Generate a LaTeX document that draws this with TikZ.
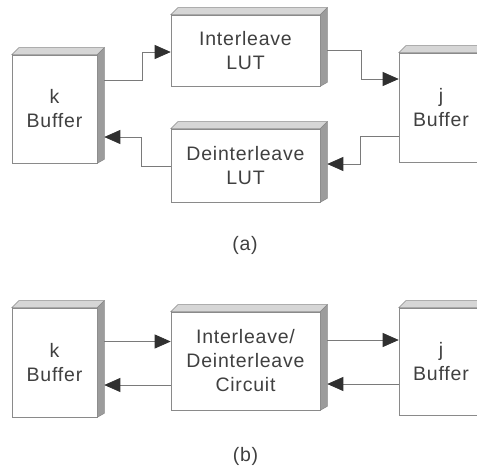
\documentclass[tikz,border=0pt]{standalone}
\usepackage{fontspec}
\setmainfont{Liberation Sans}[LetterSpace=4]
\usetikzlibrary{arrows.meta,calc}
\definecolor{txt}{HTML}{404040}
\definecolor{edge}{HTML}{8A8A8A}
\definecolor{topf}{HTML}{D6D6D6}
\definecolor{sidef}{HTML}{9C9C9C}
\definecolor{line}{HTML}{7A7A7A}
\definecolor{head}{HTML}{303030}
\tikzset{
  box3d/.style={draw=edge, line width=0.6pt, fill=white, inner sep=0pt,
    text=txt, align=center, font=\fontsize{19.5}{24}\selectfont},
  conn/.style={draw=line, line width=0.7pt,
    -{Triangle[length=16pt,width=14pt,color=head]}},
  caption/.style={text=txt, font=\fontsize{19.5}{24}\selectfont}
}
\newcommand{\facesof}[1]{%
  \filldraw[fill=topf, draw=edge, line width=0.5pt]
    (#1.north west) -- ++(7,-7) -- ($(#1.north east)+(7,-7)$) -- (#1.north east) -- cycle;
  \filldraw[fill=sidef, draw=edge, line width=0.5pt]
    (#1.north east) -- ++(7,-7) -- ($(#1.south east)+(7,-4)$) -- (#1.south east) -- cycle;
}
\begin{document}
\begin{tikzpicture}[x=1pt,y=-1pt]
\useasboundingbox (0,0) rectangle (477,469);
\clip (0,0) rectangle (477,469);
\fill[white] (0,0) rectangle (477,469);

% panel (a)
\node[box3d, minimum width=85pt, minimum height=108pt] (kA) at (54.5,109) {k\\Buffer};
\node[box3d, minimum width=149pt, minimum height=71pt] (IL) at (245.5,50.5) {Interleave\\LUT};
\node[box3d, minimum width=149pt, minimum height=73pt] (DL) at (245.5,165.5) {Deinterleave\\LUT};
\node[box3d, minimum width=84pt, minimum height=109pt] (jA) at (441,107.5) {j\\Buffer};
\facesof{kA}\facesof{IL}\facesof{DL}\facesof{jA}

\draw[conn] ($(kA.east)+(7,-29)$) -- ++(38,0) |- ($(IL.west)+(0,1.5)$);
\draw[conn] ($(IL.east)+(7,0)$) -- ++(34,0) |- ($(jA.west)+(0,-28.5)$);
\draw[conn] ($(jA.west)+(0,28.5)$) -- ++(-38,0) |- ($(DL.east)+(7,-1.5)$);
\draw[conn] ($(DL.west)+(0,0.5)$) -- ++(-29,0) |- ($(kA.east)+(7,28)$);

\node[caption] (capA) at (245,245) {(a)};

% panel (b)
\node[box3d, minimum width=85pt, minimum height=109pt] (kB) at (54.5,362.5) {k\\Buffer};
\node[box3d, minimum width=149pt, minimum height=98pt] (C) at (245.5,361) {Interleave/\\Deinterleave\\Circuit};
\node[box3d, minimum width=84pt, minimum height=107pt] (jB) at (441,361.5) {j\\Buffer};
\facesof{kB}\facesof{C}\facesof{jB}

\coordinate (p1) at ($(kB.east)+(7,-21)$);
\coordinate (p2) at ($(C.west)+(0,24)$);
\coordinate (kBr) at ($(kB.east)+(7,0)$);
\coordinate (p3) at ($(C.east)+(7,-21)$);
\coordinate (p4) at ($(jB.west)+(0,22.5)$);
\coordinate (Cr) at ($(C.east)+(7,0)$);
\draw[conn] (p1) -- (p1 -| C.west);
\draw[conn] (p2) -- (p2 -| kBr);
\draw[conn] (p3) -- (p3 -| jB.west);
\draw[conn] (p4) -- (p4 -| Cr);

\node[caption] (capB) at (245.5,456) {(b)};
\end{tikzpicture}
\end{document}
